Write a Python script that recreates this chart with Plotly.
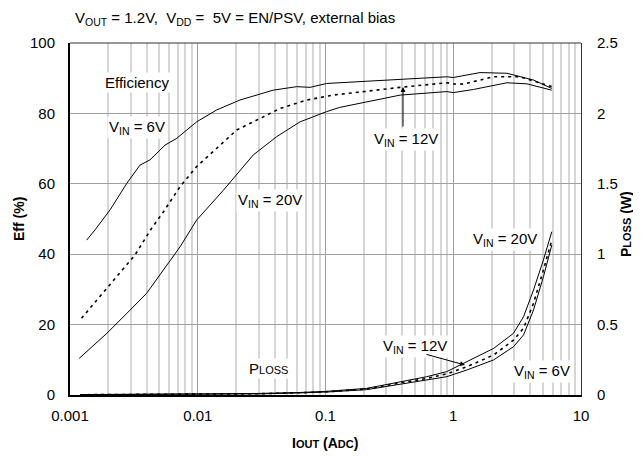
import plotly.graph_objects as go

# ---------------- data ----------------
x_eff_6v = [0.00135, 0.00157, 0.00206, 0.00278, 0.00353, 0.00423, 0.00555, 0.00684, 0.0098, 0.0141,
            0.0214, 0.0389, 0.0596, 0.0757, 0.102, 0.129, 0.384, 0.89, 1.0, 1.62, 2.63, 4.23, 5.9]
eff_6v = [44, 46.9, 52.6, 60.1, 65.3, 66.8, 71, 72.9, 77.6, 81,
          83.8, 86.6, 87.6, 87.4, 88.5, 88.7, 89.5, 90.4, 90.2, 91.6, 91.4, 89.5, 87.1]

x_eff_12v = [0.00123, 0.002, 0.00323, 0.00436, 0.00538, 0.00727, 0.0098, 0.0141, 0.0202, 0.029,
             0.0441, 0.0713, 0.115, 0.384, 0.89, 1.0, 1.2, 2.05, 3.33, 5.9]
eff_12v = [21.8, 30.8, 39.8, 47.4, 52, 59.2, 64.9, 70.1, 75.3, 78.1,
           81.4, 83.8, 85.2, 87.4, 88.7, 88.4, 88.3, 90.4, 90.4, 87.6]

x_eff_20v = [0.00118, 0.00194, 0.00295, 0.00398, 0.00727, 0.0098, 0.0159, 0.0272, 0.0415, 0.0632,
             0.102, 0.129, 0.384, 0.89, 1.0, 1.44, 2.63, 3.77, 5.9]
eff_20v = [10.4, 17.5, 24.1, 28.9, 42.1, 49.7, 58.2, 68.2, 73.4, 77.6,
           80.5, 81.7, 85.2, 86.2, 85.9, 86.8, 88.7, 88.4, 86.6]

x_loss = [0.0012, 0.003, 0.01, 0.03, 0.0632, 0.102, 0.21, 0.384, 0.62, 0.89,
          1.28, 2.07, 2.96, 3.55, 4.25, 5.08, 5.91]
loss_20v = [0.003, 0.004, 0.006, 0.011, 0.018, 0.026, 0.047, 0.095, 0.13, 0.166,
            0.237, 0.331, 0.438, 0.556, 0.746, 0.959, 1.16]
loss_12v = [0.002, 0.003, 0.005, 0.009, 0.016, 0.023, 0.043, 0.085, 0.118, 0.15,
            0.201, 0.284, 0.39, 0.474, 0.651, 0.888, 1.10]
loss_6v = [0.002, 0.003, 0.004, 0.008, 0.015, 0.021, 0.038, 0.078, 0.107, 0.13,
           0.178, 0.249, 0.343, 0.426, 0.604, 0.84, 1.065]

x_ticks = [0.001, 0.01, 0.1, 1, 10]
x_tick_text = ["0.001", "0.01", "0.1", "1", "10"]
y_ticks = [0, 20, 40, 60, 80, 100]
y2_ticks = [0, 0.5, 1, 1.5, 2, 2.5]
y2_tick_text = ["0", "0.5", "1", "1.5", "2", "2.5"]
minor_x = [m * d for d in [0.001, 0.01, 0.1, 1] for m in range(2, 10)]

# ---------------- figure ----------------
FONT = "Liberation Sans, Arial, sans-serif"
solid = dict(color="black", width=1)
dashed = dict(color="black", width=1.6, dash="3px,4px")

fig = go.Figure()
fig.add_trace(go.Scatter(x=x_eff_6v, y=eff_6v, mode="lines", line=solid, name="Eff 6V"))
fig.add_trace(go.Scatter(x=x_eff_12v, y=eff_12v, mode="lines", line=dashed, name="Eff 12V"))
fig.add_trace(go.Scatter(x=x_eff_20v, y=eff_20v, mode="lines", line=solid, name="Eff 20V"))
fig.add_trace(go.Scatter(x=x_loss, y=loss_20v, mode="lines", line=solid, yaxis="y2", name="Ploss 20V"))
fig.add_trace(go.Scatter(x=x_loss, y=loss_12v, mode="lines", line=dashed, yaxis="y2", name="Ploss 12V"))
fig.add_trace(go.Scatter(x=x_loss, y=loss_6v, mode="lines", line=solid, yaxis="y2", name="Ploss 6V"))

# page has an 8px body margin: the figure starts at page (8, 8)
OFF = 8
PL, PR, PT, PB = 70, 581, 43, 395          # plot area in page pixels
L, R, T, B = PL - OFF, (641 - PR), PT - OFF, (459 - PB)
W = L + (PR - PL) + R
H = T + (PB - PT) + B


def px(x):
    return (x - PL) / (PR - PL)


def py(y):
    return (PB - y) / (PB - PT)


ann_font = dict(family=FONT, size=15, color="black")
annotations = [
    dict(text="Efficiency", x=px(103), y=py(82)),
    dict(text="V<sub>IN</sub> = 6V", x=px(107), y=py(127)),
    dict(text="V<sub>IN</sub> = 20V", x=px(236), y=py(200)),
    dict(text="V<sub>IN</sub> = 12V", x=px(372), y=py(139)),
    dict(text="P<span style='font-size:11px'>LOSS</span>", x=px(247), y=py(368)),
    dict(text="V<sub>IN</sub> = 20V", x=px(471), y=py(239)),
    dict(text="V<sub>IN</sub> = 12V", x=px(381), y=py(346)),
    dict(text="V<sub>IN</sub> = 6V", x=px(512), y=py(371)),
]
ann_list = []
for a in annotations:
    ann_list.append(dict(text=a["text"], x=a["x"], y=a["y"], xref="paper", yref="paper",
                         xanchor="left", yanchor="middle", showarrow=False,
                         bgcolor="white", font=ann_font, borderpad=1))
# arrows
ann_list.append(dict(text="", x=px(403), y=py(87), xref="paper", yref="paper",
                     ax=0, ay=41, showarrow=True, arrowhead=2, arrowsize=1, arrowwidth=1,
                     arrowcolor="black"))
ann_list.append(dict(text="", x=px(465), y=py(365), xref="paper", yref="paper",
                     ax=-40, ay=-11, showarrow=True, arrowhead=2, arrowsize=1, arrowwidth=1,
                     arrowcolor="black"))
# axis titles (placed in page pixels)
title_font = dict(family=FONT, size=14, color="black")
ann_list.append(dict(text="<b>Eff (%)</b>", x=px(19), y=py(219), xref="paper", yref="paper",
                     textangle=-90, showarrow=False, xanchor="center", yanchor="middle",
                     font=title_font))
ann_list.append(dict(text="<b>P<span style='font-size:11px'>LOSS</span> (W)</b>", x=px(626), y=py(224),
                     xref="paper", yref="paper", textangle=-90, showarrow=False,
                     xanchor="center", yanchor="middle", font=title_font))
ann_list.append(dict(text="<b>I<span style='font-size:11px'>OUT</span> (A<span style='font-size:11px'>DC</span>)</b>",
                     x=px(325), y=py(443), xref="paper", yref="paper", showarrow=False,
                     xanchor="center", yanchor="middle", font=title_font))

tick_font = dict(family=FONT, size=15, color="black")
fig.update_layout(
    width=W, height=H,
    margin=dict(l=L, r=R, t=T, b=B, autoexpand=False),
    paper_bgcolor="white", plot_bgcolor="white",
    showlegend=False,
    font=dict(family=FONT, size=15, color="black"),
    title=dict(text="V<sub>OUT</sub> = 1.2V,&nbsp; V<sub>DD</sub> =&nbsp; 5V = EN/PSV, external bias",
               x=(75 - OFF) / W, xref="container", xanchor="left",
               y=1 - (18 - OFF) / H, yref="container", yanchor="middle",
               font=dict(family=FONT, size=15, color="black")),
    xaxis=dict(type="log", range=[-3, 1], tickvals=x_ticks, ticktext=x_tick_text,
               showgrid=True, gridcolor="#a0a0a0", gridwidth=1,
               minor=dict(tickvals=minor_x, showgrid=True, gridcolor="#d6d6d6", gridwidth=1.5),
               showline=True, linecolor="black", linewidth=2, zeroline=False,
               ticks="", ticklabelstandoff=6, tickfont=tick_font, automargin=False),
    yaxis=dict(range=[0, 100], tickvals=y_ticks, showgrid=True, gridcolor="#a0a0a0", gridwidth=1,
               showline=True, linecolor="black", linewidth=2, zeroline=False,
               ticks="", ticklabelstandoff=10, tickfont=tick_font, automargin=False),
    yaxis2=dict(range=[0, 2.5], tickvals=y2_ticks, ticktext=y2_tick_text, overlaying="y", side="right",
                showgrid=False, showline=True, linecolor="#333333", linewidth=1, zeroline=False,
                ticks="", ticklabelstandoff=12, tickfont=tick_font, automargin=False),
    annotations=ann_list,
    shapes=[dict(type="line", xref="paper", yref="paper", x0=0, x1=1, y0=1, y1=1,
                 line=dict(color="#333333", width=1))],
)

fig.write_html("out.html")
